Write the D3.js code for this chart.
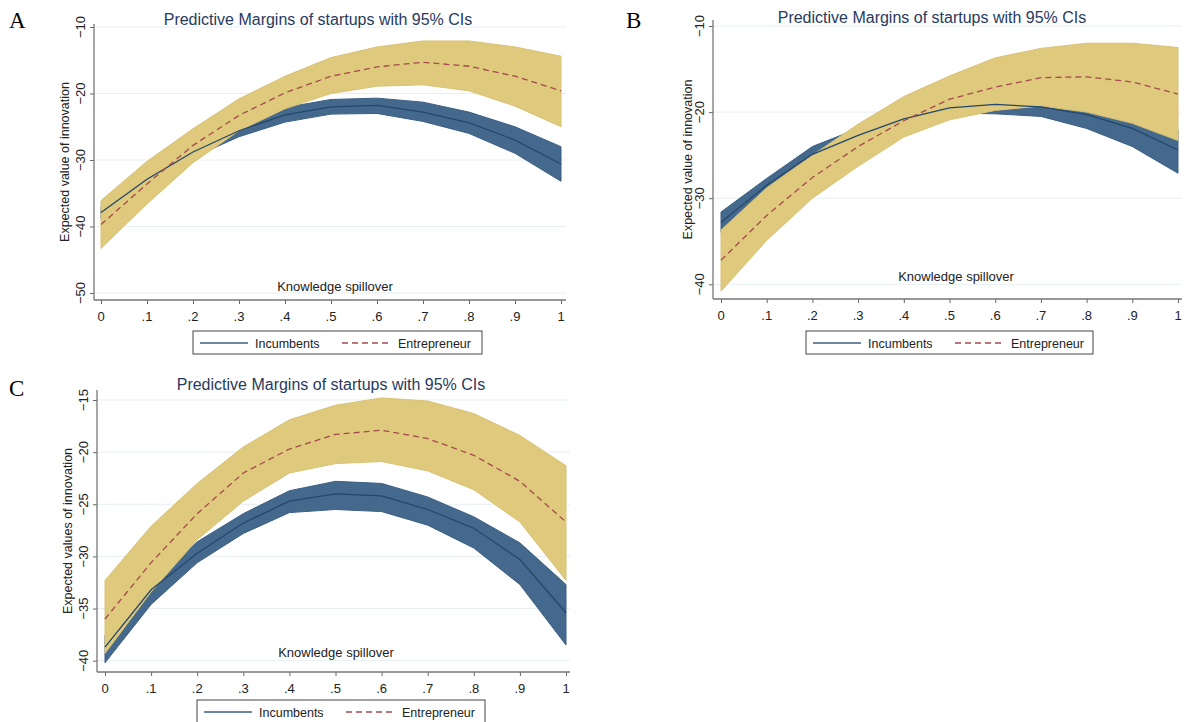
<!DOCTYPE html>
<html>
<head>
<meta charset="utf-8">
<script src="https://cdn.jsdelivr.net/npm/d3@7"></script>
<style>
  body { margin: 0; background: #fff; }
  svg { display: block; font-family: Arial, "Liberation Sans", sans-serif; }
</style>
</head>
<body>
<svg id="chart" width="1184" height="722"></svg>
<script>
// knowledge spillover values (x axis)
const spill = [0, .1, .2, .3, .4, .5, .6, .7, .8, .9, 1];
const xTickLabels = ['0', '.1', '.2', '.3', '.4', '.5', '.6', '.7', '.8', '.9', '1'];

// panel A
const incA   = [-37.9, -32.9, -28.8, -25.6, -23.2, -22.0, -21.8, -22.8, -24.4, -27.0, -30.6];
const incAHi = [-37.0, -32.2, -28.0, -24.7, -22.1, -20.9, -20.7, -21.3, -22.8, -25.0, -28.0];
const incALo = [-38.8, -33.6, -29.6, -26.5, -24.3, -23.1, -23.0, -24.2, -26.0, -29.0, -33.2];
const entA   = [-39.7, -33.6, -27.8, -23.3, -19.9, -17.4, -16.0, -15.3, -15.9, -17.4, -19.6];
const entAHi = [-36.1, -30.2, -25.3, -20.8, -17.4, -14.6, -13.0, -12.1, -12.1, -13.0, -14.4];
const entALo = [-43.3, -36.6, -30.4, -25.6, -22.3, -20.0, -18.9, -18.7, -19.6, -21.9, -25.0];
const yTicksA = [-50, -40, -30, -20, -10];

// panel B
const incB   = [-32.8, -28.5, -24.9, -22.7, -20.8, -19.5, -19.1, -19.4, -20.3, -21.9, -24.4];
const incBHi = [-31.6, -27.7, -24.0, -21.9, -20.0, -18.8, -18.4, -18.6, -19.2, -20.5, -22.0];
const incBLo = [-34.0, -29.3, -25.8, -23.5, -21.6, -20.1, -20.2, -20.5, -21.9, -24.0, -27.1];
const entB   = [-37.2, -32.0, -27.6, -24.0, -21.0, -18.5, -17.1, -16.0, -15.9, -16.5, -17.9];
const entBHi = [-33.7, -28.8, -25.0, -21.4, -18.2, -15.8, -13.7, -12.6, -12.0, -12.0, -12.5];
const entBLo = [-40.8, -34.9, -30.0, -26.3, -22.9, -20.9, -19.8, -19.3, -20.0, -21.3, -23.3];
const yTicksB = [-40, -30, -20, -10];

// panel C
const incC   = [-38.7, -33.2, -29.7, -26.8, -24.7, -24.0, -24.2, -25.5, -27.3, -30.3, -35.4];
const incCHi = [-37.6, -32.5, -28.6, -25.9, -23.7, -22.8, -23.0, -24.3, -26.2, -28.7, -32.7];
const incCLo = [-40.2, -34.6, -30.6, -27.8, -25.8, -25.5, -25.7, -27.0, -29.2, -32.7, -38.5];
const entC   = [-36.0, -30.6, -25.9, -22.0, -19.7, -18.3, -17.9, -18.7, -20.3, -22.8, -26.7];
const entCHi = [-32.3, -27.1, -23.0, -19.5, -16.9, -15.5, -14.8, -15.1, -16.3, -18.4, -21.3];
const entCLo = [-39.3, -33.4, -28.4, -24.7, -22.0, -21.1, -20.9, -21.8, -23.6, -26.7, -32.3];
const yTicksC = [-40, -35, -30, -25, -20, -15];

const seriesNames = ['Incumbents', 'Entrepreneur'];
const titleText = 'Predictive Margins of startups with 95% CIs';

const svg = d3.select('#chart');

function drawPanel(p) {
  const g = svg.append('g');
  const x = d3.scaleLinear().domain([0, 1]).range([p.x0, p.x1]);
  const y = d3.scaleLinear().domain([p.yLo, p.yHi]).range([p.yLoPx, p.yHiPx]);

  // gridlines
  g.selectAll('.grid').data(p.yTicks).enter().append('line')
    .attr('x1', p.left).attr('x2', p.right)
    .attr('y1', d => y(d)).attr('y2', d => y(d))
    .attr('stroke', '#e6eff2').attr('stroke-width', 1);

  const band = (lo, hi) => d3.area()
    .x((d, i) => x(spill[i]))
    .y0((d, i) => y(lo[i]))
    .y1((d, i) => y(hi[i]))(spill);
  const line = vals => d3.line()
    .x((d, i) => x(spill[i]))
    .y((d, i) => y(vals[i]))(spill);

  g.append('path').attr('d', band(p.incLo, p.incHi))
    .attr('fill', '#45698c').attr('stroke', '#3b5f84').attr('stroke-width', 1);
  g.append('path').attr('d', band(p.entLo, p.entHi))
    .attr('fill', '#dfc97c').attr('stroke', '#d9c274').attr('stroke-width', 1);
  g.append('path').attr('d', line(p.inc))
    .attr('fill', 'none').attr('stroke', '#24476b').attr('stroke-width', 1.3);
  g.append('path').attr('d', line(p.ent))
    .attr('fill', 'none').attr('stroke', '#a4494c').attr('stroke-width', 1.3)
    .attr('stroke-dasharray', '6,4');

  // y axis
  const yAxis = g.append('g').attr('transform', `translate(${p.left},0)`)
    .call(d3.axisLeft(y).tickValues(p.yTicks).tickSize(4).tickFormat(''));
  yAxis.select('.domain').remove();
  yAxis.selectAll('line').attr('stroke', '#666');
  g.append('line').attr('x1', p.left).attr('x2', p.left)
    .attr('y1', p.top).attr('y2', p.bottom).attr('stroke', '#777').attr('stroke-width', 1.3);
  g.selectAll('.ylab').data(p.yTicks).enter().append('text')
    .attr('transform', d => `translate(${p.left - 9.5},${y(d)}) rotate(-90)`)
    .attr('text-anchor', 'middle').attr('font-size', 13).attr('fill', '#222')
    .text(d => d3.format('d')(d));

  // x axis
  const xAxis = g.append('g').attr('transform', `translate(0,${p.bottom})`)
    .call(d3.axisBottom(x).tickValues(spill).tickSize(4).tickFormat(''));
  xAxis.select('.domain').remove();
  xAxis.selectAll('line').attr('stroke', '#666');
  g.append('line').attr('x1', p.left).attr('x2', p.right)
    .attr('y1', p.bottom).attr('y2', p.bottom).attr('stroke', '#777').attr('stroke-width', 1.3);
  g.selectAll('.xlab').data(spill).enter().append('text')
    .attr('x', d => x(d)).attr('y', p.bottom + 21)
    .attr('text-anchor', 'middle').attr('font-size', 13).attr('fill', '#222')
    .text((d, i) => xTickLabels[i]);

  // titles
  g.append('text').attr('x', p.titleX).attr('y', p.titleY)
    .attr('text-anchor', 'middle').attr('font-size', 16).attr('fill', '#283a5e')
    .text(titleText);
  g.append('text').attr('x', p.xTitleX).attr('y', p.xTitleY)
    .attr('text-anchor', 'middle').attr('font-size', 13).attr('fill', '#222')
    .text('Knowledge spillover');
  g.append('text')
    .attr('transform', `translate(${p.yTitleX},${(p.top + p.bottom) / 2}) rotate(-90)`)
    .attr('text-anchor', 'middle').attr('font-size', 12.5).attr('fill', '#222')
    .text(p.yTitle);

  // panel letter
  svg.append('text').attr('x', p.letterX).attr('y', p.letterY)
    .attr('font-family', '"Liberation Serif", "DejaVu Serif", serif')
    .attr('font-size', 23).attr('fill', '#000').text(p.letter);

  // legend
  const lg = g.append('g').attr('transform', `translate(${p.legX},${p.legY})`);
  lg.append('rect').attr('width', p.legW).attr('height', 23)
    .attr('fill', '#fff').attr('stroke', '#444').attr('stroke-width', 1);
  lg.append('line').attr('x1', 7).attr('x2', 55).attr('y1', 12).attr('y2', 12)
    .attr('stroke', '#3b5f84').attr('stroke-width', 1.3);
  lg.append('text').attr('x', 62).attr('y', 16.5).attr('font-size', 12.5).attr('fill', '#222')
    .text(seriesNames[0]);
  lg.append('line').attr('x1', 149).attr('x2', 198).attr('y1', 12).attr('y2', 12)
    .attr('stroke', '#a4494c').attr('stroke-width', 1.3).attr('stroke-dasharray', '6,4');
  lg.append('text').attr('x', 205).attr('y', 16.5).attr('font-size', 12.5).attr('fill', '#222')
    .text(seriesNames[1]);
}

drawPanel({
  letter: 'A', letterX: 9, letterY: 28,
  left: 94, right: 566, top: 24, bottom: 300,
  x0: 101, x1: 561,
  yLo: -50, yHi: -10, yLoPx: 293, yHiPx: 27, yTicks: yTicksA,
  inc: incA, incHi: incAHi, incLo: incALo, ent: entA, entHi: entAHi, entLo: entALo,
  titleX: 318, titleY: 25, xTitleX: 335, xTitleY: 291,
  yTitleX: 69, yTitle: 'Expected value of innovation',
  legX: 193, legY: 331, legW: 289
});

drawPanel({
  letter: 'B', letterX: 626, letterY: 28,
  left: 713, right: 1182, top: 20, bottom: 299,
  x0: 721, x1: 1178,
  yLo: -40, yHi: -10, yLoPx: 284.3, yHiPx: 26, yTicks: yTicksB,
  inc: incB, incHi: incBHi, incLo: incBLo, ent: entB, entHi: entBHi, entLo: entBLo,
  titleX: 932, titleY: 23, xTitleX: 956, xTitleY: 281,
  yTitleX: 692, yTitle: 'Expected value of innovation',
  legX: 806, legY: 331, legW: 287
});

drawPanel({
  letter: 'C', letterX: 9, letterY: 396,
  left: 97, right: 570, top: 390, bottom: 672,
  x0: 105, x1: 566,
  yLo: -40, yHi: -15, yLoPx: 660.7, yHiPx: 400, yTicks: yTicksC,
  inc: incC, incHi: incCHi, incLo: incCLo, ent: entC, entHi: entCHi, entLo: entCLo,
  titleX: 331, titleY: 390, xTitleX: 336, xTitleY: 657,
  yTitleX: 72, yTitle: 'Expected values of innovation',
  legX: 197, legY: 700, legW: 288
});
</script>
</body>
</html>
